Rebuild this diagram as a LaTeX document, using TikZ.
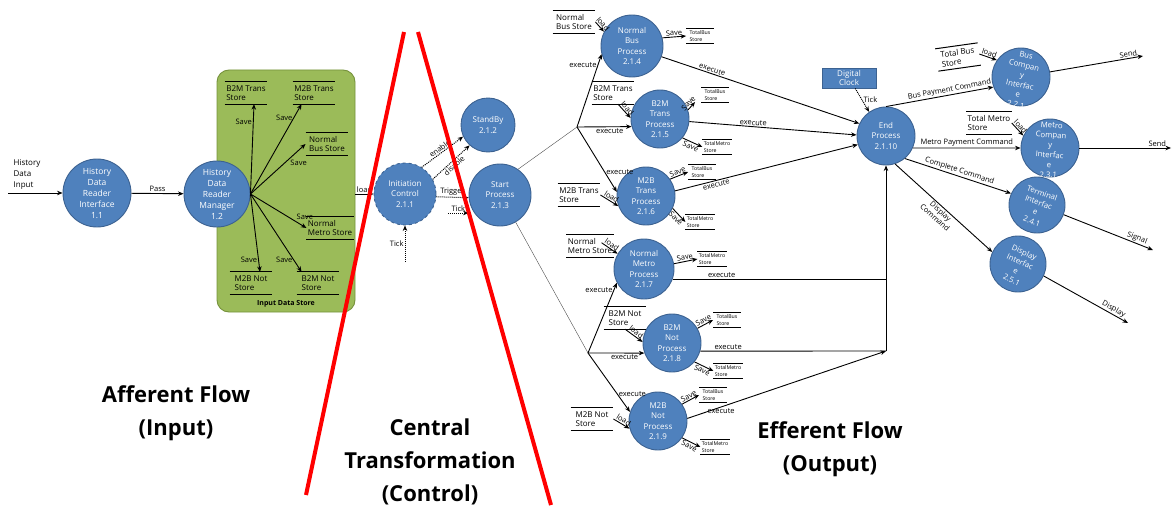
\documentclass[tikz,border=0pt]{standalone}
\usepackage{fontspec}
\setmainfont{Open Sans}
\usetikzlibrary{positioning,arrows.meta}

\definecolor{procblue}{RGB}{79,129,189}
\definecolor{procline}{RGB}{60,98,145}
\definecolor{boxgreen}{RGB}{155,187,89}
\definecolor{boxline}{RGB}{118,146,60}

\begin{document}
\begin{tikzpicture}[x=1pt,y=-1pt,>={Stealth[length=5.5pt,width=4.5pt]},line width=0.9pt]
	\tikzstyle{proc} = [circle, align=center, inner sep=0pt, fill=procblue, draw=procline, text=white, font=\fontsize{8}{10.5}\selectfont]
	\tikzstyle{proctext} = [align=center, inner sep=0pt, text=white, font=\fontsize{7.8}{10}\selectfont]
	\tikzstyle{datastore} = [align=left, inner xsep=1pt, inner ysep=3pt, minimum width=42, font=\fontsize{8}{9.5}\selectfont, append after command={\pgfextra{\draw[line width=1pt] (\tikzlastnode.north west) -- (\tikzlastnode.north east) (\tikzlastnode.south west) -- (\tikzlastnode.south east);}}]
	\tikzstyle{smallstore} = [datastore, inner ysep=1.5pt, minimum width=27, font=\fontsize{5.2}{6.2}\selectfont]
	\tikzstyle{inbox} = [rectangle, rounded corners=12pt, fill=boxgreen, draw=boxline, minimum width=138, minimum height=242]
	\tikzstyle{clockbox} = [rectangle, fill=procblue, draw=procline, text=white, align=center, inner sep=1pt, minimum width=54, minimum height=20, font=\fontsize{8}{9.5}\selectfont]
	\tikzstyle{lbl} = [inner sep=1pt, font=\fontsize{7.5}{8.5}\selectfont]
	\tikzstyle{bigtext} = [align=center, font=\fontsize{22}{33}\selectfont\bfseries]
	\tikzstyle{ctrl} = [->, densely dotted, line width=1pt]

	\useasboundingbox (0,0) rectangle (1172,511);

	%input side
	\node (hdin) at (27,175) [align=left, inner sep=0pt, font=\fontsize{8}{11}\selectfont]{History\\Data\\Input};
	\coordinate (hdinstart) at (8,193);
	\node (ids) at (286,191) [inbox]{};
	\node[above=1pt of ids.south, font=\fontsize{7}{8}\selectfont\bfseries] (idslbl) {Input Data Store};
	\node (hdri) at (97,193) [proc, minimum size=68, font=\fontsize{8.5}{11}\selectfont]{History\\Data\\Reader\\Interface\\1.1};
	\node (hdrm) at (217,194) [proc, minimum size=66, font=\fontsize{8.5}{11}\selectfont]{History\\Data\\Reader\\Manager\\1.2};

	\node (btstore) at (246,93) [datastore]{B2M Trans\\Store};
	\node (mtstore) at (314,93) [datastore]{M2B Trans\\Store};
	\node (nbstore) at (327,144) [datastore]{Normal\\Bus Store};
	\node (nmstore) at (330,228) [datastore]{Normal\\Metro Store};
	\node (mnstore) at (251,283) [datastore]{M2B Not\\Store};
	\node (bnstore) at (318,283) [datastore]{B2M Not\\Store};

	%control
	\node (ic) at (405,194) [proc, minimum size=62, dashed]{Initiation\\Control\\2.1.1};
	\node (sb) at (488,125) [proc, minimum size=54]{StandBy\\2.1.2};
	\node (sp) at (500,195) [proc, minimum size=62]{Start\\Process\\2.1.3};
	\coordinate (ictick) at (405,262);
	\coordinate (sptick) at (448,213);

	%processes
	\node (nbp) at (632,46) [proc, minimum size=62]{Normal\\Bus\\Process\\2.1.4};
	\node (btp) at (660,119) [proc, minimum size=58]{B2M\\Trans\\Process\\2.1.5};
	\node (mtp) at (646,196) [proc, minimum size=58]{M2B\\Trans\\Process\\2.1.6};
	\node (nmp) at (644,269) [proc, minimum size=60]{Normal\\Metro\\Process\\2.1.7};
	\node (bnp) at (672,343) [proc, minimum size=58]{B2M\\Not\\Process\\2.1.8};
	\node (mnp) at (658,421) [proc, minimum size=58]{M2B\\Not\\Process\\2.1.9};
	\node (ep) at (886,136) [proc, minimum size=58]{End\\Process\\2.1.10};
	\node (dc) at (849,78) [clockbox]{Digital\\Clock};
	\coordinate (hubA) at (577,127);
	\coordinate (hubB) at (588,353);
	\coordinate (jb) at (886,351);

	\node (nbs) at (574,22) [datastore]{Normal\\Bus Store};
	\node (bts) at (613,93) [datastore]{B2M Trans\\Store};
	\node (mts) at (579,195) [datastore]{M2B Trans\\Store};
	\node (nms) at (590,246) [datastore]{Normal\\Metro Store};
	\node (bns) at (625,318) [datastore]{B2M Not\\Store};
	\node (mns) at (592,419) [datastore]{M2B Not\\Store};

	\node (tb1) at (700,36) [smallstore]{TotalBus\\Store};
	\node (tb2) at (715,95) [smallstore]{TotalBus\\Store};
	\node (tm2) at (717,147) [smallstore]{TotalMetro\\Store};
	\node (tb3) at (702,172) [smallstore]{TotalBus\\Store};
	\node (tm3) at (700,222) [smallstore]{TotalMetro\\Store};
	\node (tm4) at (712,259) [smallstore]{TotalMetro\\Store};
	\node (tb5) at (727,320) [smallstore]{TotalBus\\Store};
	\node (tm5) at (728,371) [smallstore]{TotalMetro\\Store};
	\node (tb6) at (713,395) [smallstore]{TotalBus\\Store};
	\node (tm6) at (715,447) [smallstore]{TotalMetro\\Store};

	%interfaces
	\node (bci) at (1021,77) [proc, minimum size=58]{};
	\node (bcitxt) at (1021,80) [proctext, rotate=-12]{Bus\\Compan\\y\\Interfac\\e\\2.2.1};
	\node (mci) at (1050,148) [proc, minimum size=58]{};
	\node (mcitxt) at (1050,150) [proctext, rotate=-4]{Metro\\Compan\\y\\Interfac\\e\\2.3.1};
	\node (ti) at (1037,205) [proc, minimum size=56]{};
	\node (titxt) at (1037,207) [proctext, rotate=-20]{Terminal\\Interfac\\e\\2.4.1};
	\node (di) at (1018,264) [proc, minimum size=56]{};
	\node (ditxt) at (1018,266) [proctext, rotate=-25]{Display\\Interfac\\e\\2.5.1};
	\node (tbs) at (958,57) [datastore, rotate=8]{Total Bus\\Store};
	\node (tms) at (989,123) [datastore]{Total Metro\\Store};
	\coordinate (send1) at (1143,56);
	\coordinate (send2) at (1171,148);
	\coordinate (signal) at (1153,250);
	\coordinate (dispout) at (1128,323);

	%Arrows
	\draw[->] (hdinstart) -- (hdri.west);
	\draw[->] (hdri) -- (hdrm) node[lbl, midway, above]{Pass};
	\draw[->] (hdrm.east) -- ([xshift=8pt]btstore.south) node[lbl, pos=.8, left]{Save};
	\draw[->] (hdrm.east) -- ([xshift=9pt]mtstore.south west) node[lbl, pos=.85, left]{Save};
	\draw[->] (hdrm.east) -- (nbstore.west) node[lbl, pos=.7, below right]{Save};
	\draw[->] (hdrm.east) -- (nmstore.west) node[lbl, pos=.8, above right]{Save};
	\draw[->] (hdrm.east) -- ([xshift=9pt]mnstore.north) node[lbl, pos=.85, left]{Save};
	\draw[->] (hdrm.east) -- ([xshift=5pt]bnstore.north west) node[lbl, pos=.85, left]{Save};

	\draw[->] (ids.east |- ic) -- (ic) node[lbl, midway, above]{load};
	\draw[ctrl] (ictick) -- (ic) node[lbl, midway, left]{Tick};
	\draw[ctrl] (ic.58) -- (sb.205) node[lbl, midway, above, sloped]{enable};
	\draw[ctrl] (ic.28) -- (sb.228) node[lbl, midway, below, sloped]{disable};
	\draw[ctrl] (ic.-5) -- (sp.185) node[lbl, midway, above]{Trigger};
	\draw[ctrl] (sptick) -- (sptick -| sp.west) node[lbl, midway, above]{Tick};

	\draw[thin, gray!60!black] (sp.55) -- (hubA);
	\draw[thin, gray!60!black] (sp.-60) -- (hubB);
	\draw[->] (hubA) -- (nbp.195) node[lbl, pos=.85, left]{execute};
	\draw[->] (hubA) -- (btp.195) node[lbl, pos=.6, below]{execute};
	\draw[->] (hubA) -- (mtp.172) node[lbl, pos=.7, right]{execute};
	\draw[->] (hubB) -- (nmp.207) node[lbl, pos=.9, left]{execute};
	\draw[->] (hubB) -- (bnp.200) node[lbl, pos=.65, below]{execute};
	\draw[->] (hubB) -- (mnp.162) node[lbl, pos=.7, right]{execute};

	%load
	\draw[->] (nbs.east) -- (nbp.153) node[lbl, midway, above, sloped]{load};
	\draw[->] ([xshift=5pt]bts.south) -- (btp.178) node[lbl, midway, above, sloped]{load};
	\draw[->] (mts.east) -- (mtp.200) node[lbl, midway, above, sloped]{load};
	\draw[->] ([xshift=-12pt,yshift=-8pt]nms.north east) -- (nmp.150) node[lbl, midway, above, sloped]{load};
	\draw[->] (bns.south) -- (bnp.178) node[lbl, midway, above, sloped]{load};
	\draw[->] (mns.east) -- (mnp.195) node[lbl, midway, above, sloped]{load};

	%save
	\draw[->] (nbp.15) -- (tb1.west) node[lbl, midway, above, sloped]{Save};
	\draw[->] (btp.18) -- ([xshift=-6pt]tb2.south west) node[lbl, midway, above, sloped]{Save};
	\draw[->] (btp.-40) -- (tm2.west) node[lbl, midway, below, sloped]{Save};
	\draw[->] (mtp.35) -- (tb3.west) node[lbl, midway, above, sloped]{Save};
	\draw[->] (mtp.-25) -- (tm3.west) node[lbl, midway, below, sloped]{Save};
	\draw[->] (nmp.10) -- (tm4.west) node[lbl, midway, above, sloped]{Save};
	\draw[->] (bnp.30) -- (tb5.west) node[lbl, midway, above, sloped]{Save};
	\draw[->] (bnp.-40) -- (tm5.west) node[lbl, midway, below, sloped]{Save};
	\draw[->] (mnp.35) -- (tb6.west) node[lbl, midway, above, sloped]{Save};
	\draw[->] (mnp.-35) -- (tm6.west) node[lbl, midway, below, sloped]{Save};

	%execute
	\draw[->] (nbp.-20) -- (ep.155) node[lbl, pos=.25, above, sloped]{execute};
	\draw[->] (btp.-5) -- (ep.178) node[lbl, pos=.38, above, sloped]{execute};
	\draw[->] (mtp.10) -- (ep.197) node[lbl, pos=.22, below, sloped]{execute};
	\draw (nmp.-20) -- (nmp.-20 -| jb) node[lbl, pos=.23, above]{execute};
	\draw (bnp.-16) -- (jb) node[lbl, pos=.15, above]{execute};
	\draw[->] (mnp.5) -- (jb) node[lbl, pos=.17, below]{execute};
	\draw[->] (jb) -- (ep);
	\draw[ctrl] (dc) -- (ep.125) node[lbl, midway, right]{Tick};

	%output
	\draw[->] (ep.90) -- (bci.200) node[lbl, pos=.6, above, sloped]{Bus Payment Command};
	\draw[->] (ep.-24) -- (mci.west) node[lbl, midway, above]{Metro Payment Command};
	\draw[->] (ep.-50) -- (ti.156) node[lbl, midway, above, sloped]{Complete Command};
	\draw[->] (ep.-72) -- (di.155) node[lbl, align=center, midway, below, sloped]{Display\\Command};
	\draw[->] (tbs.east) -- (bci.145) node[lbl, midway, above, sloped]{load};
	\draw[->] (tms.east) -- (mci.155) node[lbl, midway, above, sloped]{load};
	\draw[->] (bci.10) -- (send1) node[lbl, pos=.85, above, sloped]{Send};
	\draw[->] (mci.east) -- (send2) node[lbl, pos=.85, above]{Send};
	\draw[->] (ti.-20) -- (signal) node[lbl, pos=.8, above, sloped]{Signal};
	\draw[->] (di.-25) -- (dispout) node[lbl, pos=.8, above, sloped]{Display};

	%flow boundaries
	\draw[red, line width=4pt] (404,32) -- (306,495);
	\draw[red, line width=4pt] (418,32) -- (551,505);
	\node (aff) at (176,413) [bigtext]{Afferent Flow\\(Input)};
	\node (cen) at (430,462) [bigtext]{Central\\Transformation\\(Control)};
	\node (eff) at (830,449) [bigtext]{Efferent Flow\\(Output)};
\end{tikzpicture}
\end{document}
